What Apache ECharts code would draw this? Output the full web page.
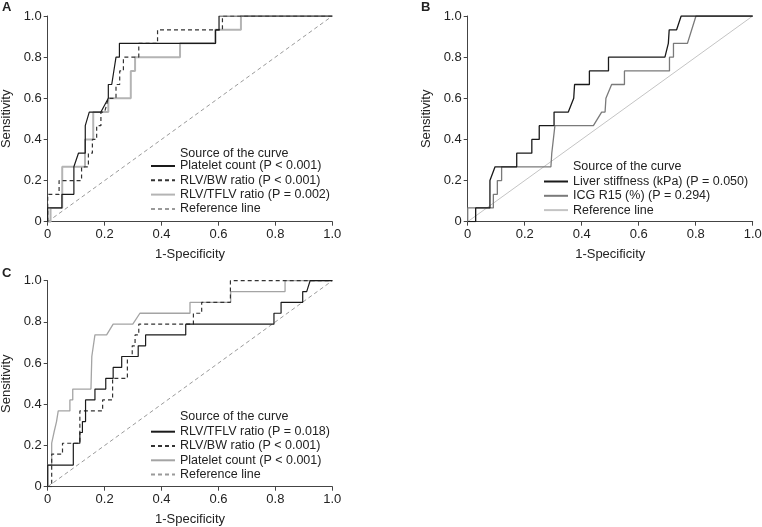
<!DOCTYPE html>
<html><head><meta charset="utf-8">
<script src="https://cdn.jsdelivr.net/npm/echarts@6/dist/echarts.min.js"></script>
<style>html,body{margin:0;padding:0;background:#fff}#c{width:762px;height:527px}</style>
</head><body><div id="c"></div>
<script>
// ---- data (x = 1-Specificity, y = Sensitivity) ----
const tickValues = [0, 0.2, 0.4, 0.6, 0.8, 1.0];
const referenceLine = [[0, 0], [1, 1]];

// Panel A
const aPlatelet = [[0,0],[0,0.067],[0.05,0.067],[0.05,0.133],[0.092,0.133],[0.092,0.267],[0.108,0.333],[0.132,0.333],[0.132,0.467],[0.146,0.533],[0.187,0.533],[0.213,0.6],[0.213,0.667],[0.225,0.667],[0.24,0.8],[0.252,0.8],[0.252,0.867],[0.59,0.867],[0.59,0.933],[0.602,0.933],[0.602,1],[1,1]];
const aRlvBw = [[0,0],[0,0.133],[0.04,0.133],[0.04,0.2],[0.119,0.2],[0.119,0.267],[0.143,0.267],[0.143,0.333],[0.157,0.333],[0.157,0.4],[0.172,0.4],[0.172,0.467],[0.187,0.467],[0.187,0.533],[0.2,0.533],[0.213,0.6],[0.24,0.6],[0.24,0.667],[0.253,0.667],[0.253,0.733],[0.266,0.733],[0.266,0.8],[0.32,0.8],[0.32,0.867],[0.386,0.867],[0.386,0.933],[0.614,0.933],[0.614,1],[1,1]];
const aRlvTflv = [[0,0],[0.01,0],[0.01,0.067],[0.051,0.067],[0.051,0.267],[0.131,0.267],[0.131,0.4],[0.16,0.4],[0.16,0.533],[0.213,0.533],[0.213,0.6],[0.292,0.6],[0.292,0.733],[0.307,0.733],[0.307,0.8],[0.465,0.8],[0.465,0.867],[0.588,0.867],[0.588,0.933],[0.679,0.933],[0.679,1],[1,1]];

// Panel B
const bLiver = [[0,0],[0.028,0],[0.028,0.067],[0.078,0.067],[0.078,0.2],[0.096,0.267],[0.172,0.267],[0.172,0.333],[0.225,0.333],[0.225,0.4],[0.251,0.4],[0.251,0.467],[0.303,0.467],[0.303,0.533],[0.353,0.533],[0.372,0.6],[0.375,0.667],[0.427,0.667],[0.427,0.733],[0.494,0.733],[0.494,0.8],[0.692,0.8],[0.704,0.867],[0.707,0.933],[0.733,0.933],[0.749,1],[1,1]];
const bIcg = [[0,0],[0,0.067],[0.09,0.067],[0.09,0.133],[0.104,0.133],[0.104,0.2],[0.119,0.2],[0.119,0.267],[0.292,0.267],[0.295,0.333],[0.306,0.467],[0.441,0.467],[0.47,0.533],[0.482,0.533],[0.485,0.6],[0.505,0.667],[0.55,0.667],[0.55,0.733],[0.708,0.733],[0.708,0.8],[0.722,0.8],[0.722,0.867],[0.771,0.867],[0.801,1],[1,1]];

// Panel C
const cRlvTflv = [[0,0],[0,0.105],[0.09,0.105],[0.09,0.211],[0.113,0.211],[0.113,0.263],[0.122,0.263],[0.122,0.316],[0.133,0.316],[0.133,0.421],[0.166,0.421],[0.166,0.474],[0.204,0.474],[0.204,0.526],[0.23,0.526],[0.23,0.579],[0.26,0.579],[0.26,0.632],[0.318,0.632],[0.318,0.684],[0.344,0.684],[0.344,0.737],[0.485,0.737],[0.485,0.789],[0.795,0.789],[0.795,0.842],[0.82,0.842],[0.82,0.895],[0.896,0.895],[0.896,0.947],[0.91,0.947],[0.922,1],[1,1]];
const cRlvBw = [[0,0],[0.014,0],[0.014,0.158],[0.052,0.158],[0.052,0.211],[0.113,0.211],[0.113,0.368],[0.193,0.368],[0.193,0.421],[0.228,0.421],[0.228,0.526],[0.28,0.526],[0.28,0.632],[0.297,0.632],[0.297,0.684],[0.307,0.684],[0.307,0.737],[0.32,0.737],[0.32,0.789],[0.512,0.789],[0.512,0.842],[0.541,0.842],[0.541,0.895],[0.642,0.895],[0.642,1],[1,1]];
const cPlatelet = [[0,0],[0,0.105],[0.014,0.105],[0.014,0.211],[0.022,0.263],[0.031,0.316],[0.037,0.368],[0.078,0.368],[0.078,0.421],[0.088,0.421],[0.088,0.474],[0.152,0.474],[0.155,0.632],[0.166,0.737],[0.207,0.737],[0.23,0.789],[0.299,0.789],[0.324,0.842],[0.5,0.842],[0.5,0.895],[0.643,0.895],[0.643,0.947],[0.834,0.947],[0.834,1],[1,1]];

// legend labels
const aNames = ['Platelet count (P < 0.001)', 'RLV/BW ratio (P < 0.001)', 'RLV/TFLV ratio (P = 0.002)', 'Reference line'];
const bNames = ['Liver stiffness (kPa) (P = 0.050)', 'ICG R15 (%) (P = 0.294)', 'Reference line'];
const cNames = ['RLV/TFLV ratio (P = 0.018)', 'RLV/BW ratio (P < 0.001)', 'Platelet count (P < 0.001)', 'Reference line'];
const legendHeader = 'Source of the curve';

// ---- chart ----
const FONT = 'Liberation Sans, Arial, sans-serif';
const AX = '#444';
const LFS = 12.5;
function fmt(v){ return v === 0 ? '0' : v.toFixed(1); }
function xAx(gi){
  return {gridIndex: gi, type:'value', min:0, max:1, interval:0.2,
    name:'1-Specificity', nameLocation:'middle', nameGap:26,
    nameTextStyle:{fontSize:13, color:'#222', fontFamily:FONT},
    axisLine:{show:true, onZero:false, lineStyle:{color:AX, width:1}},
    axisTick:{show:true, length:4, lineStyle:{color:AX}},
    axisLabel:{formatter:fmt, fontSize:13, color:'#222', fontFamily:FONT, margin:6},
    splitLine:{show:false}};
}
function yAx(gi){
  return {gridIndex: gi, type:'value', min:0, max:1, interval:0.2,
    name:'Sensitivity', nameLocation:'middle', nameGap:35,
    nameTextStyle:{fontSize:13, color:'#222', fontFamily:FONT},
    axisLine:{show:true, onZero:false, lineStyle:{color:AX, width:1}},
    axisTick:{show:true, length:4, lineStyle:{color:AX}},
    axisLabel:{formatter:fmt, fontSize:13, color:'#222', fontFamily:FONT, margin:6},
    splitLine:{show:false}};
}
function line(name, data, gi, color, width, type, z){
  return {type:'line', name:name, data:data, xAxisIndex:gi, yAxisIndex:gi,
    symbol:'none', showSymbol:false, silent:true, animation:false, z:z,
    lineStyle:{color:color, width:width, type:type}, itemStyle:{color:color}};
}
const DASH = [4,3];
const REFDASH = [4,3];
const strip = n => n.replace(/^[ABC]\|/, '');
function legend(names, prefix, left, top){
  return {orient:'vertical', left:left, top:top, padding:0, itemGap:0.3,
    itemWidth:24, itemHeight:14, selectedMode:false,
    itemStyle:{opacity:0, borderWidth:0},
    data: names.map(n => prefix + '|' + n), formatter: strip,
    textStyle:{fontSize:LFS, color:'#222', fontFamily:FONT, lineHeight:14, padding:[0,0,0,0]}};
}
function txt(text, left, top, bold){
  return {text:text, left:left, top:top, padding:0,
    textStyle:{fontSize: bold ? 13 : LFS, fontWeight: bold ? 'bold' : 'normal', color:'#222', fontFamily:FONT, lineHeight:15}};
}

const chart = echarts.init(document.getElementById('c'), null, {renderer:'canvas'});
chart.setOption({
  backgroundColor:'#fff',
  animation:false,
  title:[
    txt('A', 2, 0, true), txt('B', 421, 0, true), txt('C', 2, 266, true),
    txt(legendHeader, 180, 146.5), txt(legendHeader, 573, 159), txt(legendHeader, 180, 409)
  ],
  grid:[
    {left:47.7, top:16, width:284.6, height:205.7, outerBoundsMode:'none', containLabel:false},
    {left:467.7, top:16, width:285, height:205.7, outerBoundsMode:'none', containLabel:false},
    {left:47.7, top:280.7, width:284.6, height:206, outerBoundsMode:'none', containLabel:false}
  ],
  xAxis:[xAx(0), xAx(1), xAx(2)],
  yAxis:[yAx(0), yAx(1), yAx(2)],
  legend:[
    legend(aNames, 'A', 150, 159),
    legend(bNames, 'B', 543, 174.5),
    legend(cNames, 'C', 150, 424.7)
  ],
  series:[
    line('A|Reference line', referenceLine, 0, '#9a9a9a', 1, REFDASH, 1),
    line('A|RLV/TFLV ratio (P = 0.002)', aRlvTflv, 0, '#b4b4b4', 2, 'solid', 2),
    line('A|RLV/BW ratio (P < 0.001)', aRlvBw, 0, '#333', 1.2, DASH, 3),
    line('A|Platelet count (P < 0.001)', aPlatelet, 0, '#1a1a1a', 1.2, 'solid', 4),

    line('B|Reference line', referenceLine, 1, '#c4c4c4', 1, 'solid', 1),
    line('B|ICG R15 (%) (P = 0.294)', bIcg, 1, '#7a7a7a', 1.3, 'solid', 2),
    line('B|Liver stiffness (kPa) (P = 0.050)', bLiver, 1, '#1a1a1a', 1.3, 'solid', 3),

    line('C|Reference line', referenceLine, 2, '#9a9a9a', 1, REFDASH, 1),
    line('C|Platelet count (P < 0.001)', cPlatelet, 2, '#a4a4a4', 1.3, 'solid', 2),
    line('C|RLV/BW ratio (P < 0.001)', cRlvBw, 2, '#333', 1.2, DASH, 3),
    line('C|RLV/TFLV ratio (P = 0.018)', cRlvTflv, 2, '#1a1a1a', 1.2, 'solid', 4)
  ]
});
</script>
</body></html>
